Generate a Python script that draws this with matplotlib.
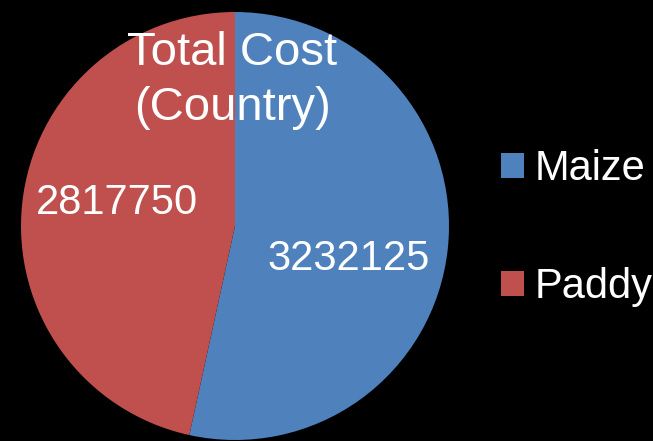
import matplotlib
matplotlib.use("Agg")
import matplotlib.pyplot as plt
from matplotlib.patches import Patch

# total cost per crop
crops = ["Maize", "Paddy"]
costs = [3232125, 2817750]
colors = ["#4F81BD", "#C0504D"]
title = "Total Cost\n(Country)"

# where each value label sits inside its wedge (data coords)
label_pos = [(0.533, -0.154), (-0.551, 0.107)]

plt.rcParams['font.family'] = ['Liberation Sans', 'DejaVu Sans']

fig = plt.figure(figsize=(6.53, 4.41), dpi=100, facecolor="black")
ax = fig.add_axes([21 / 653, 1 / 441, 428 / 653, 428 / 441])
ax.set_facecolor("black")

wedges, _ = ax.pie(costs, colors=colors, startangle=90, counterclock=False,
                   radius=1.0, wedgeprops=dict(linewidth=0))
ax.set_xlim(-1, 1)
ax.set_ylim(-1, 1)
ax.set_aspect("equal")
ax.axis("off")

for (x, y), val in zip(label_pos, costs):
    ax.text(x, y, str(val), color="white", fontsize=30, ha="center", va="center")

ax.text(-0.014, 0.68, title, color="white", fontsize=34, ha="center",
        va="center", linespacing=1.3)

handles = [Patch(facecolor=c, edgecolor="none") for c in colors]
fig.legend(handles, crops, loc="center left", bbox_to_anchor=(480 / 653, 1 - 228 / 441),
           frameon=False, fontsize=30, labelcolor="white", handlelength=0.55,
           handleheight=0.55, handletextpad=0.25, labelspacing=1.88, borderpad=0)

fig.savefig("out.png", dpi=100, facecolor="black")
